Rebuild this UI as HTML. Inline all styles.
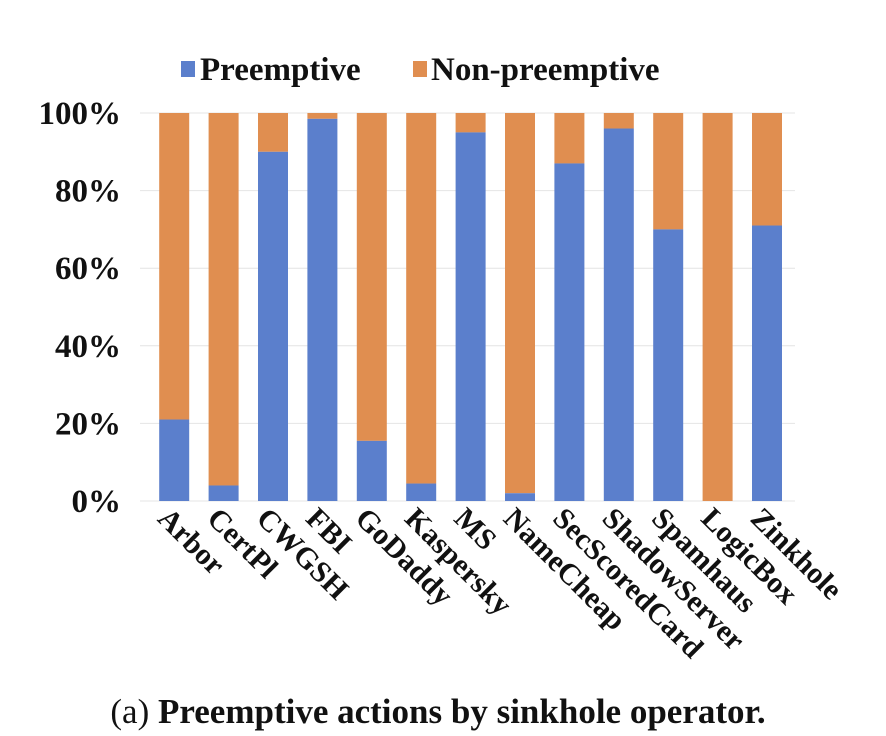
<!DOCTYPE html>
<html><head><meta charset="utf-8"><style>
body{margin:0;background:#fff;}
svg{display:block;font-family:"Liberation Serif",serif;font-weight:bold;}
</style></head><body>
<svg id="chart" width="886" height="736">
<g id="grid"></g>
<g id="bars"></g>
<g id="yaxis"></g>
<g id="xaxis"></g>
<g>
<rect x="181" y="61" width="14" height="16" fill="#5b7fcc"/>
<text x="200" y="80" font-size="33" fill="#111">Preemptive</text>
<rect x="413" y="61" width="14" height="16" fill="#e08e50"/>
<text x="431" y="80" font-size="33" fill="#111">Non-preemptive</text>
</g>
<text x="438" y="723" text-anchor="middle" font-size="35" fill="#111"><tspan font-weight="normal">(a) </tspan>Preemptive actions by sinkhole operator.</text>
</svg>
<script>
const categories=["Arbor","CertPl","CWGSH","FBI","GoDaddy","Kaspersky","MS","NameCheap","SecScoredCard","ShadowServer","Spamhaus","LogicBox","Zinkhole"];
const preemptive=[21,4,90,98.5,15.5,4.5,95,2,87,96,70,0,71];
const yTicks=[0,20,40,60,80,100];
const yTickLabels=["0%","20%","40%","60%","80%","100%"];
const NS="http://www.w3.org/2000/svg";
const x0=149.5,band=49.4,bw=30,yb=501,yt=113;
function y(v){return yb-(yb-yt)*v/100;}
function xc(i){return x0+band*(i+0.5);}
function mk(t,a,p){const e=document.createElementNS(NS,t);for(const k in a)e.setAttribute(k,a[k]);p.appendChild(e);return e;}
const grid=document.getElementById('grid'),bars=document.getElementById('bars'),ya=document.getElementById('yaxis'),xa=document.getElementById('xaxis');
yTicks.forEach((t,i)=>{
 const l=mk('line',{x1:140,x2:795,y1:y(t),y2:y(t),stroke:'#e4e4e4','stroke-width':1},grid);
 
 
 const tx=mk('text',{x:121,y:y(t)+11,'text-anchor':'end','font-size':33,fill:'#111'},ya);
 tx.textContent=yTickLabels[i];
 
 
});
categories.forEach((c,i)=>{
 const v=preemptive[i],cx=xc(i);
 const o=mk('rect',{x:cx-bw/2,y:y(100),width:bw,height:y(v)-y(100),fill:'#e08e50'},bars);
 
 
 const b=mk('rect',{x:cx-bw/2,y:y(v),width:bw,height:yb-y(v),fill:'#5b7fcc'},bars);
 
 
 const tx=mk('text',{x:0,y:0,'font-size':30,fill:'#111',transform:`translate(${cx-18},${520}) rotate(45)`},xa);
 tx.textContent=c;
 
 
});
</script>
</body></html>
